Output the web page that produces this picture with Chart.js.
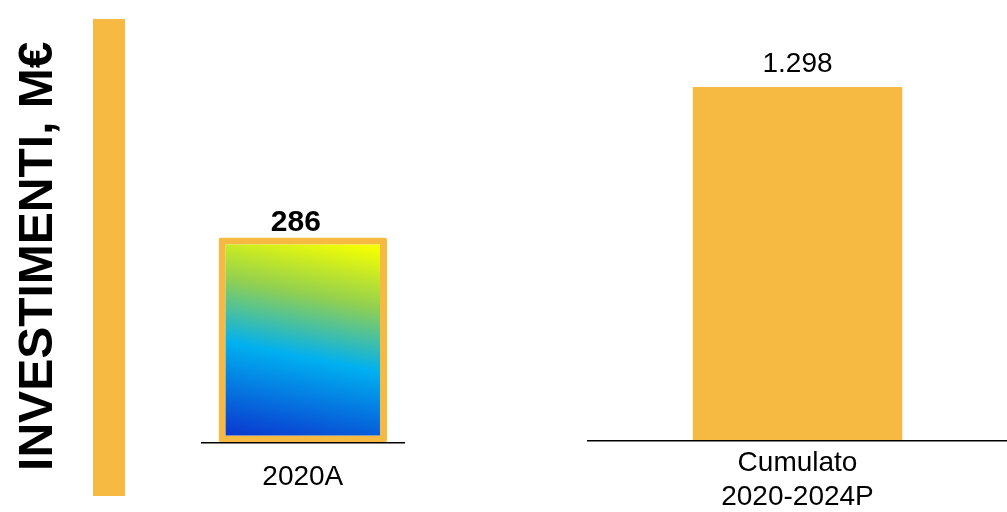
<!DOCTYPE html>
<html lang="it">
<head>
<meta charset="utf-8">
<script src="https://cdn.jsdelivr.net/npm/chart.js@4"></script>
<style>
  html, body { margin: 0; padding: 0; background: #fff; overflow: hidden; }
  body { width: 1007px; height: 512px; position: relative; }
  #accent { position: absolute; left: 93px; top: 19px; width: 32px; height: 477px; background: #f6b942; }
  #leftBox { position: absolute; left: 0; top: 0; width: 500px; height: 512px; }
  #rightBox { position: absolute; left: 500px; top: 0; width: 507px; height: 520px; }
</style>
</head>
<body>
<div id="accent"></div>
<div id="leftBox"><canvas id="actualChart"></canvas></div>
<div id="rightBox"><canvas id="cumulativeChart"></canvas></div>
<script>
const actualCategories = ['2020A'];
const actualValues = [286];
const cumulativeCategories = [['Cumulato', '2020-2024P']];
const cumulativeValues = [1298];
const axisTitle = 'INVESTIMENTI, M€';

const ORANGE = '#f6b942';
Chart.defaults.font.family = '"Liberation Sans", Arial, sans-serif';
Chart.defaults.color = '#000';

function formatIt(n) {
  return String(n).replace(/\B(?=(\d{3})+(?!\d))/g, '.');
}

const valueLabels = {
  id: 'valueLabels',
  afterDatasetsDraw(chart, args, opts) {
    const { ctx } = chart;
    const meta = chart.getDatasetMeta(0);
    const data = chart.data.datasets[0].data;
    ctx.save();
    ctx.font = opts.font;
    ctx.fillStyle = '#000';
    ctx.textAlign = 'center';
    ctx.textBaseline = 'alphabetic';
    meta.data.forEach((bar, i) => {
      ctx.fillText(formatIt(data[i]), bar.x + (opts.dx || 0), bar.y - opts.gap);
    });
    ctx.restore();
  }
};

function gradientFill(context) {
  const { chart } = context;
  const area = chart.chartArea;
  if (!area) return '#00b0f0';
  const top = chart.scales.y.getPixelForValue(actualValues[0]);
  const cx = (area.left + area.right) / 2;
  const g = chart.ctx.createLinearGradient(cx - 20, area.bottom, cx + 20, top);
  g.addColorStop(0, '#0a3cd0');
  g.addColorStop(0.42, '#00b0f0');
  g.addColorStop(0.72, '#92d050');
  g.addColorStop(1, '#f5ff00');
  return g;
}

new Chart(document.getElementById('actualChart').getContext('2d'), {
  type: 'bar',
  data: {
    labels: actualCategories,
    datasets: [{
      data: actualValues,
      backgroundColor: gradientFill,
      borderColor: ORANGE,
      borderWidth: 7,
      borderSkipped: false,
      borderRadius: 2,
      categoryPercentage: 1,
      barPercentage: 0.832
    }]
  },
  plugins: [valueLabels],
  options: {
    responsive: true,
    maintainAspectRatio: false,
    animation: false,
    layout: { padding: { left: 6, top: 70, right: 96, bottom: 0 } },
    plugins: {
      legend: { display: false },
      tooltip: { enabled: false },
      valueLabels: { font: 'bold 30px "Liberation Sans", Arial', gap: 7, dx: -7 }
    },
    scales: {
      x: {
        grid: { display: false, drawTicks: false },
        border: { display: true, color: '#000', width: 1.5, z: 1 },
        ticks: { padding: 18, font: { size: 28 } }
      },
      y: {
        min: 0,
        max: 520,
        ticks: { display: false },
        grid: { display: false, drawTicks: false },
        border: { display: false },
        title: {
          display: true,
          text: axisTitle,
          color: '#000',
          font: { size: 48, weight: 'bold', lineHeight: 1.2 },
          padding: { top: 4, bottom: 134 }
        }
      }
    }
  }
});

new Chart(document.getElementById('cumulativeChart').getContext('2d'), {
  type: 'bar',
  data: {
    labels: cumulativeCategories,
    datasets: [{
      data: cumulativeValues,
      backgroundColor: ORANGE,
      borderWidth: 0,
      categoryPercentage: 1,
      barPercentage: 0.5
    }]
  },
  plugins: [valueLabels],
  options: {
    responsive: true,
    maintainAspectRatio: false,
    animation: false,
    layout: { padding: { left: 88, top: 40, right: 0, bottom: 0 } },
    plugins: {
      legend: { display: false },
      tooltip: { enabled: false },
      valueLabels: { font: '28px "Liberation Sans", Arial', gap: 15 }
    },
    scales: {
      x: {
        grid: { display: false, drawTicks: false },
        border: { display: true, color: '#000', width: 1.5, z: 1 },
        ticks: { padding: 6, font: { size: 28, lineHeight: 1.2 } }
      },
      y: {
        display: false,
        min: 0,
        max: 1470
      }
    }
  }
});
</script>
</body>
</html>
